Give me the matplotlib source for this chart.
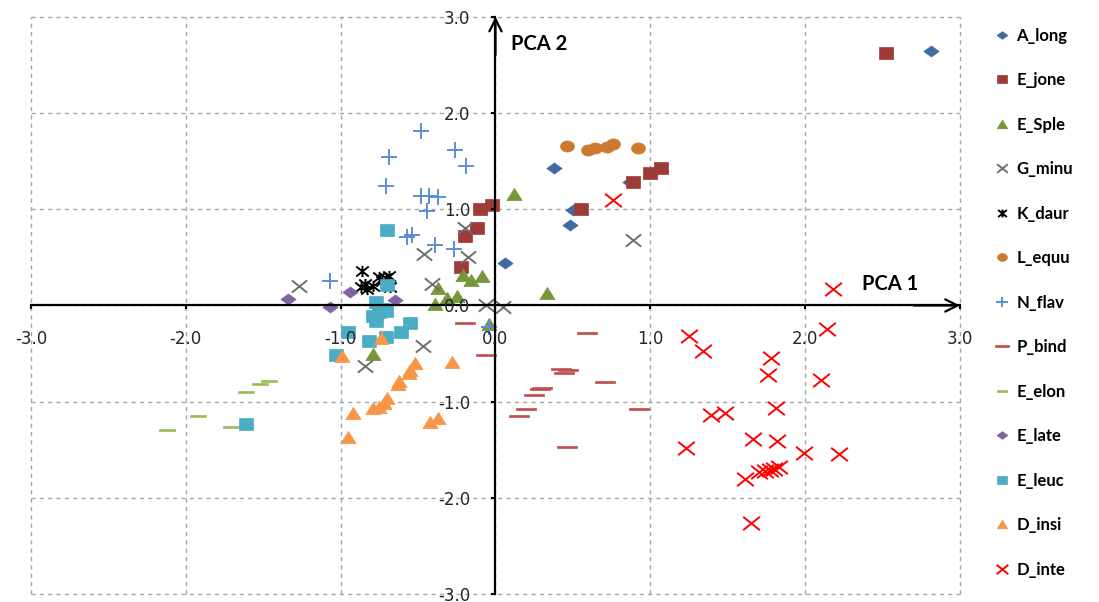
import numpy as np
import matplotlib.pyplot as plt
from matplotlib.path import Path

# species scores on the first two components
a_long_x = [2.81, 0.375, 0.87, 0.50, 0.48, 0.06]
a_long_y = [2.64, 1.43, 1.28, 0.99, 0.84, 0.44]

e_jone_x = [2.52, 1.07, 1.00, 0.89, 0.555, -0.02, -0.10, -0.12, -0.20, -0.22]
e_jone_y = [2.62, 1.43, 1.38, 1.28, 1.00, 1.04, 1.00, 0.81, 0.72, 0.40]

e_sple_x = [0.12, 0.33, -0.21, -0.16, -0.09, -0.37, -0.31, -0.25, -0.39, -0.04, -0.79]
e_sple_y = [1.16, 0.125, 0.32, 0.26, 0.31, 0.18, 0.08, 0.10, 0.02, -0.19, -0.50]

g_minu_x = [0.89, -0.20, -0.18, -0.46, -0.41, -0.06, 0.05, -1.27, -0.47, -0.84]
g_minu_y = [0.68, 0.80, 0.50, 0.53, 0.22, 0.00, -0.02, 0.20, -0.42, -0.63]

k_daur_x = [-0.86, -0.83, -0.87, -0.75, -0.71, -0.69, -0.73, -0.79, -0.84, -0.68]
k_daur_y = [0.36, 0.17, 0.19, 0.30, 0.29, 0.31, 0.25, 0.20, 0.22, 0.19]

l_equu_x = [0.46, 0.60, 0.645, 0.72, 0.76, 0.92]
l_equu_y = [1.66, 1.62, 1.64, 1.65, 1.68, 1.64]

n_flav_x = [-0.48, -0.26, -0.19, -0.69, -0.71, -0.48, -0.43, -0.37, -0.44,
            -0.57, -0.54, -0.39, -0.27, -1.07, -0.04]
n_flav_y = [1.81, 1.62, 1.45, 1.54, 1.24, 1.14, 1.14, 1.13, 0.98,
            0.71, 0.73, 0.63, 0.59, 0.25, -0.22]

p_bind_x = [0.59, -0.06, -0.20, 0.42, 0.47, 0.44, 0.71, 0.30, 0.29, 0.25, 0.20, 0.15, 0.93, 0.46]
p_bind_y = [-0.29, -0.51, -0.18, -0.66, -0.67, -0.70, -0.79, -0.86, -0.87, -0.93, -1.08, -1.15, -1.08, -1.47]

e_elon_x = [-1.46, -1.52, -1.61, -1.92, -2.12, -1.71]
e_elon_y = [-0.78, -0.82, -0.90, -1.15, -1.29, -1.26]

e_late_x = [-1.34, -1.07, -0.94, -0.65]
e_late_y = [0.07, -0.02, 0.14, 0.06]

e_leuc_x = [-0.70, -0.70, -0.77, -0.73, -0.79, -0.75, -0.71, -0.77, -0.55, -0.61,
            -0.95, -0.82, -0.71, -1.03, -1.61]
e_leuc_y = [0.78, 0.21, 0.04, -0.04, -0.11, -0.07, -0.06, -0.16, -0.18, -0.28,
            -0.28, -0.37, -0.33, -0.51, -1.23]

d_insi_x = [-0.74, -0.99, -0.28, -0.52, -0.55, -0.56, -0.62, -0.63, -0.70, -0.72,
            -0.75, -0.79, -0.92, -0.37, -0.42, -0.95]
d_insi_y = [-0.34, -0.52, -0.59, -0.60, -0.67, -0.70, -0.78, -0.82, -0.96, -1.01,
            -1.05, -1.07, -1.12, -1.17, -1.21, -1.37]

d_inte_x = [1.25, 1.34, 1.78, 1.76, 2.14, 2.10, 1.81, 1.39, 1.48, 1.66, 1.82, 1.23,
            1.99, 2.22, 1.70, 1.74, 1.77, 1.80, 1.83, 1.61, 1.65, 2.18, 0.76]
d_inte_y = [-0.32, -0.47, -0.55, -0.72, -0.24, -0.77, -1.07, -1.14, -1.12, -1.39, -1.41, -1.48,
            -1.53, -1.54, -1.73, -1.72, -1.71, -1.70, -1.68, -1.80, -2.26, 0.17, 1.10]

ticks = [-3.0, -2.0, -1.0, 0.0, 1.0, 2.0, 3.0]

# marker shapes (a bit wider than tall, like the original)
M, L = Path.MOVETO, Path.LINETO
diamond = Path([(-1, 0), (0, 0.72), (1, 0), (0, -0.72), (-1, 0)])
square = Path([(-1, -0.8), (1, -0.8), (1, 0.8), (-1, 0.8), (-1, -0.8)])
triangle = Path([(-1, -0.8), (1, -0.8), (0, 0.8), (-1, -0.8)])
t = np.linspace(0, 2 * np.pi, 40)
ellipse = Path(np.column_stack([np.cos(t), 0.8 * np.sin(t)]))
xmark = Path([(-1, -0.8), (1, 0.8), (-1, 0.8), (1, -0.8)], [M, L, M, L])
plus = Path([(-1, 0), (1, 0), (0, -0.9), (0, 0.9)], [M, L, M, L])
star = Path([(-1, -0.8), (1, 0.8), (-1, 0.8), (1, -0.8), (0, -0.9), (0, 0.9)],
            [M, L, M, L, M, L])
dash = Path([(-1, -0.12), (1, -0.12), (1, 0.12), (-1, 0.12), (-1, -0.12)])

series = [
    ("A_long", a_long_x, a_long_y, diamond, 11, "#3D6BA6", True),
    ("E_jone", e_jone_x, e_jone_y, square, 10, "#9E3A38", True),
    ("E_Sple", e_sple_x, e_sple_y, triangle, 11, "#77973A", True),
    ("G_minu", g_minu_x, g_minu_y, xmark, 11, "#6E6E6E", False),
    ("K_daur", k_daur_x, k_daur_y, star, 9, "#000000", False),
    ("L_equu", l_equu_x, l_equu_y, ellipse, 10, "#CC7A30", True),
    ("N_flav", n_flav_x, n_flav_y, plus, 12, "#5B8ED6", False),
    ("P_bind", p_bind_x, p_bind_y, dash, 14, "#C0504D", True),
    ("E_elon", e_elon_x, e_elon_y, dash, 11, "#9BBB59", True),
    ("E_late", e_late_x, e_late_y, diamond, 11, "#8064A2", True),
    ("E_leuc", e_leuc_x, e_leuc_y, square, 10, "#4BACC6", True),
    ("D_insi", d_insi_x, d_insi_y, triangle, 11, "#F79646", True),
    ("D_inte", d_inte_x, d_inte_y, xmark, 12, "#FF0000", False),
]

fig = plt.figure(figsize=(10.99, 6.02), dpi=100)
ax = fig.add_axes([0.0282, 0.0128, 0.8453, 0.9595])
ax.set_xlim(-3, 3)
ax.set_ylim(-3, 3)

# dashed grid, under everything
for v in ticks:
    ax.axvline(v, color="#A6A6A6", lw=1.0, ls=(0, (3, 3)), zorder=0.5, clip_on=False)
    ax.axhline(v, color="#A6A6A6", lw=1.0, ls=(0, (3, 3)), zorder=0.5, clip_on=False)

handles = []
for name, xs, ys, mk, ms, col, filled in series:
    if filled:
        h, = ax.plot(xs, ys, ls="none", marker=mk, ms=ms, mfc=col, mec=col, mew=0.5,
                     label=name, zorder=2, clip_on=False)
    else:
        h, = ax.plot(xs, ys, ls="none", marker=mk, ms=ms, mfc="none", mec=col, mew=1.4,
                     label=name, zorder=2, clip_on=False)
    handles.append(h)

# axes through the origin
for s in ["top", "right"]:
    ax.spines[s].set_visible(False)
for s in ["left", "bottom"]:
    ax.spines[s].set_position(("data", 0))
    ax.spines[s].set_linewidth(1.6)
    ax.spines[s].set_color("black")
ax.set_axisbelow(False)

ax.set_xticks(ticks)
ax.set_yticks(ticks)
ax.set_xticklabels(["%.1f" % v for v in ticks])
ax.set_yticklabels(["%.1f" % v for v in ticks])
ax.tick_params(axis="x", direction="out", length=3, width=1.5, pad=15,
               labelsize=12, labelcolor="#262626")
ax.tick_params(axis="y", direction="out", length=3, width=1.5, pad=15,
               labelsize=12, labelcolor="#262626")

ax.annotate("", xy=(3.0, 0), xytext=(2.7, 0),
            arrowprops=dict(arrowstyle="->", lw=1.6, color="black", mutation_scale=22,
                            shrinkA=0, shrinkB=0))
ax.annotate("", xy=(0, 3.0), xytext=(0, 2.6),
            arrowprops=dict(arrowstyle="->", lw=1.6, color="black", mutation_scale=22,
                            shrinkA=0, shrinkB=0))

ax.text(2.37, 0.16, "PCA 1", fontsize=14.5, fontweight="bold", family="Lato")
ax.text(0.10, 2.65, "PCA 2", fontsize=14.5, fontweight="bold", family="Lato")

fig.legend(handles=handles, loc="upper left", bbox_to_anchor=(0.906, 0.954),
           frameon=False, markerscale=0.7, handlelength=0.8, handletextpad=0.45,
           labelspacing=1.71, borderpad=0, borderaxespad=0,
           prop=dict(family="Lato", weight="bold", size=12))

plt.savefig("out.png", dpi=100)
